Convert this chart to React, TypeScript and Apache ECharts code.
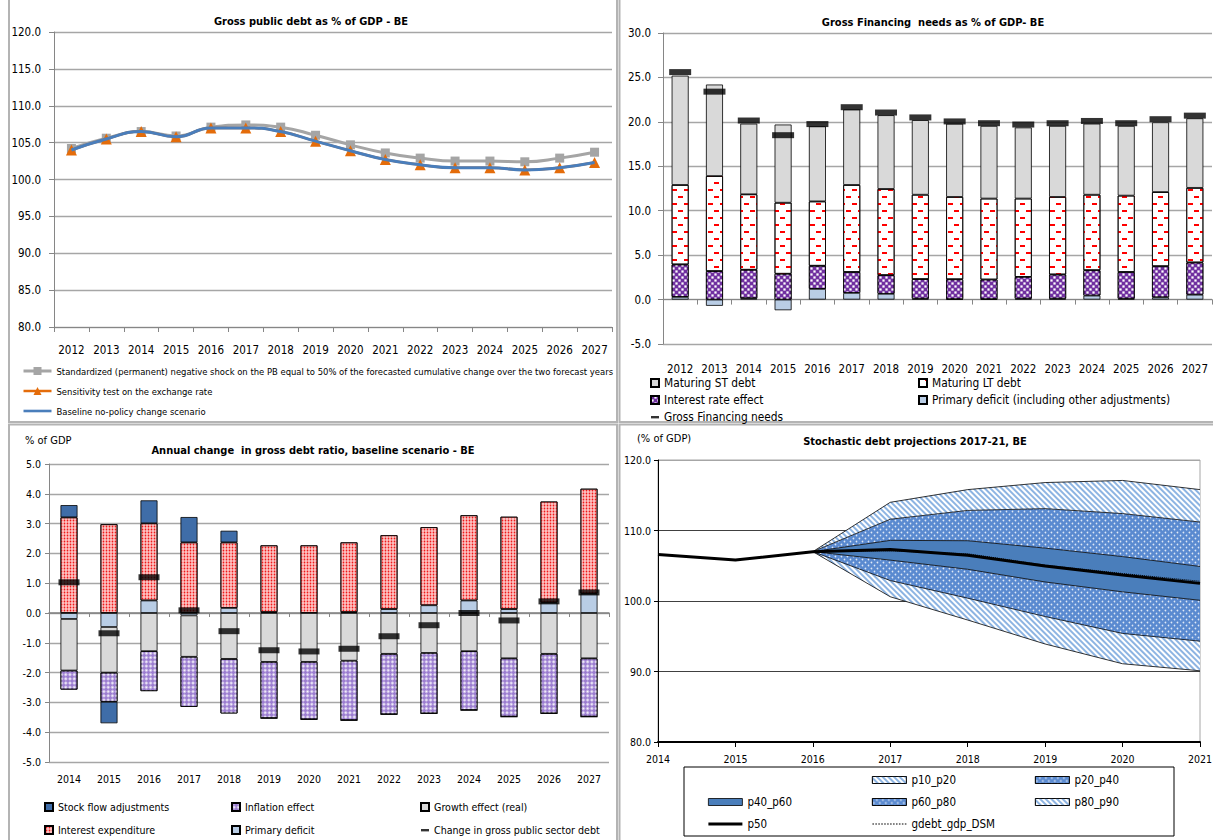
import { useEffect, useRef } from 'react';
import * as echarts from 'echarts';

const FONT = "'DejaVu Sans Condensed', 'Liberation Sans', sans-serif";

// ---------- Top-left: Gross public debt ----------
const yearsDebt = ['2012', '2013', '2014', '2015', '2016', '2017', '2018', '2019', '2020', '2021', '2022', '2023', '2024', '2025', '2026', '2027'];
const shockPB = [104.2, 105.6, 106.5, 105.9, 107.1, 107.4, 107.1, 106.0, 104.7, 103.6, 102.9, 102.5, 102.5, 102.4, 102.9, 103.7];
const exchangeRate = [104.0, 105.5, 106.5, 105.8, 107.0, 107.0, 106.5, 105.2, 103.9, 102.7, 102.0, 101.6, 101.6, 101.3, 101.6, 102.3];
const baseline = [104.0, 105.5, 106.5, 105.8, 107.0, 107.0, 106.5, 105.2, 103.9, 102.7, 102.0, 101.6, 101.6, 101.3, 101.6, 102.3];

// ---------- Top-right: Gross financing needs ----------
const yearsGfn = yearsDebt;
const gfnPrimary = [0.3, -0.7, 0.15, -1.2, 1.2, 0.75, 0.65, 0.1, 0.05, 0.05, 0.1, 0.1, 0.45, 0.1, 0.25, 0.55];
const gfnInterest = [3.65, 3.2, 3.2, 2.9, 2.6, 2.35, 2.1, 2.2, 2.23, 2.2, 2.45, 2.72, 2.85, 3.0, 3.5, 3.62];
const gfnLT = [8.95, 10.7, 8.5, 8.0, 7.25, 9.8, 9.7, 9.5, 9.27, 9.12, 8.82, 8.73, 8.5, 8.6, 8.35, 8.4];
const gfnST = [12.3, 10.3, 7.95, 8.8, 8.45, 8.5, 8.3, 8.4, 8.25, 8.18, 8.0, 8.0, 8.0, 7.85, 7.85, 7.83];
const gfnTotal = [25.6, 23.4, 20.15, 18.5, 19.75, 21.65, 21.05, 20.5, 20.05, 19.85, 19.7, 19.85, 20.1, 19.85, 20.3, 20.7];

// ---------- Bottom-left: Annual change in gross debt ratio ----------
const yearsChg = ['2014', '2015', '2016', '2017', '2018', '2019', '2020', '2021', '2022', '2023', '2024', '2025', '2026', '2027'];
const chgPrimary = [-0.2, -0.47, 0.42, -0.08, 0.17, 0.03, 0.0, 0.03, 0.13, 0.26, 0.42, 0.13, 0.35, 0.65];
const chgInterest = [3.21, 2.98, 2.59, 2.37, 2.2, 2.24, 2.27, 2.34, 2.48, 2.62, 2.86, 3.1, 3.39, 3.52];
const chgGrowth = [-1.73, -1.53, -1.28, -1.39, -1.54, -1.64, -1.64, -1.6, -1.37, -1.34, -1.28, -1.52, -1.37, -1.52];
const chgInflation = [-0.64, -0.98, -1.34, -1.68, -1.83, -1.89, -1.93, -2.0, -2.03, -2.03, -1.98, -1.96, -2.0, -1.96];
const chgSFA = [0.41, -0.72, 0.77, 0.85, 0.39, 0, 0, 0, 0, 0, 0, 0, 0, 0];
const chgDebt = [1.03, -0.68, 1.2, 0.09, -0.61, -1.25, -1.29, -1.2, -0.78, -0.41, 0.0, -0.25, 0.39, 0.69];

// ---------- Bottom-right: Stochastic debt projections ----------
const yearsFan = ['2014', '2015', '2016', '2017', '2018', '2019', '2020', '2021'];
const p10 = [null, null, 107.0, 100.6, 97.3, 93.9, 91.1, 90.1];
const p20 = [null, null, 107.0, 102.9, 100.4, 97.8, 95.4, 94.3];
const p40 = [null, null, 107.0, 105.8, 104.5, 102.7, 101.3, 100.1];
const p50 = [106.6, 105.8, 107.0, 107.3, 106.5, 104.95, 103.7, 102.5];
const p60 = [null, null, 107.0, 108.6, 108.55, 107.5, 106.3, 104.9];
const p80 = [null, null, 107.0, 111.6, 112.85, 113.1, 112.4, 111.2];
const p90 = [null, null, 107.0, 114.0, 115.8, 116.8, 117.1, 115.8];
const dsm = [106.6, 105.8, 107.0, 107.1, 106.7, 105.1, 103.9, 102.8];

const txt = (size: number) => ({ fontFamily: FONT, fontSize: size, color: '#000' });
const fmt1 = (v: number) => v.toFixed(1);
const axisGray = '#868686';
const gridGray = '#A6A6A6';
const dashIcon = 'path://M0,0M0,3h8v2.4h-8zM8,8';
const lineIcon = (w: number, h: number) => `path://M0,0h${w}v${h}h-${w}z`;
const dottedIcon = (() => {
  let d = 'path://';
  for (let i = 0; i < 12; i++) d += `M${i * 3},0h1.6v1h-1.6z`;
  return d;
})();

const decLT = { symbol: 'rect', symbolSize: 1, color: '#FF0000', dashArrayX: [[5, 7], [0, 6, 5, 1]], dashArrayY: [2, 5] };
const decChecker = { symbol: 'rect', symbolSize: 0.75, color: '#FFFFFF', dashArrayX: [[3, 3], [0, 3, 3, 0]], dashArrayY: [3, 0] };
const decLattice = { symbol: 'rect', symbolSize: 0.75, color: '#FFFFFF', dashArrayX: [[3, 3], [0, 3, 3, 0]], dashArrayY: [3, 0], rotation: Math.PI / 4 };
const decRedDots = { symbol: 'rect', symbolSize: 0.6, color: '#F01818', dashArrayX: [3, 0], dashArrayY: [3, 0] };
const decHatch = { symbol: 'rect', symbolSize: 1, color: '#8DB4E2', dashArrayX: [1, 0], dashArrayY: [2, 2], rotation: Math.PI / 4 };
const decDots = { symbol: 'circle', symbolSize: 0.55, color: 'rgba(255,255,255,0.8)', dashArrayX: [[3, 3], [0, 3, 3, 0]], dashArrayY: [3, 0] };

const nz = (a: (number | null)[]) => a.map((v) => (v == null ? '-' : v));
const diff = (hi: (number | null)[], lo: (number | null)[]) =>
  hi.map((v, i) => (v == null || lo[i] == null ? '-' : +((v as number) - (lo[i] as number)).toFixed(3)));

function buildOption(): any {
  const barBorder = { borderColor: '#000', borderWidth: 0.8 };
  const fanAxes = { xAxisIndex: 5, yAxisIndex: 3 };
  const band = (name: string, hi: (number | null)[], lo: (number | null)[], color: string, decal: any) => ({
    type: 'line', name, stack: 'fan', data: diff(hi, lo), symbol: 'none', ...fanAxes, z: 2,
    lineStyle: { width: 0, color, decal }, itemStyle: { color, decal },
    areaStyle: { color, opacity: 1 },
  });
  const boundary = (name: string, d: (number | null)[]) => ({
    type: 'line', name, data: nz(d), symbol: 'none', ...fanAxes, z: 3, silent: true,
    lineStyle: { color: '#000', width: 0.8 },
  });
  const legendBase = (left: number, top: number, data: any[], size: number, lh: number, gap: number, iw: number, ih: number) => ({
    orient: 'vertical', left, top, padding: 0, itemGap: gap, itemWidth: iw, itemHeight: ih, selectedMode: false,
    textStyle: { fontFamily: FONT, fontSize: size, color: '#000', lineHeight: lh }, data,
  });
  const bandItem = (name: string) => ({ name, icon: 'rect', itemStyle: { borderColor: '#000', borderWidth: 0.8 } });
  const title = (x: number, y: number, text: string) => ({
    type: 'text', x, y, style: { text, fontFamily: FONT, fontSize: 11, fontWeight: 'bold', fill: '#000', align: 'center', verticalAlign: 'middle' },
  });

  return {
    animation: false,
    backgroundColor: '#FFFFFF',
    grid: [
      { left: 54, top: 32, width: 558, height: 295, outerBoundsMode: 'none', containLabel: false },
      { left: 663, top: 33, width: 549, height: 311, outerBoundsMode: 'none', containLabel: false },
      { left: 49, top: 464, width: 560, height: 298, outerBoundsMode: 'none', containLabel: false },
      { left: 658, top: 460, width: 542, height: 282, outerBoundsMode: 'none', containLabel: false, show: true, borderColor: gridGray, borderWidth: 1, backgroundColor: 'transparent' },
    ],
    xAxis: [
      { gridIndex: 0, type: 'category', data: yearsDebt, axisLine: { show: true, lineStyle: { color: axisGray } }, axisTick: { show: true, length: 5, interval: 0, lineStyle: { color: axisGray } }, axisLabel: { ...txt(11.5), interval: 0, margin: 17 }, splitLine: { show: false } },
      { gridIndex: 1, type: 'category', data: yearsGfn, position: 'bottom', axisLine: { show: false, onZero: false }, axisTick: { show: false }, axisLabel: { ...txt(11.5), interval: 0, margin: 19 }, splitLine: { show: false } },
      { gridIndex: 1, type: 'category', data: yearsGfn, position: 'bottom', axisLine: { show: true, onZero: true, lineStyle: { color: axisGray } }, axisTick: { show: true, length: 5, interval: 0, lineStyle: { color: axisGray } }, axisLabel: { show: false }, splitLine: { show: false } },
      { gridIndex: 2, type: 'category', data: yearsChg, position: 'bottom', axisLine: { show: false, onZero: false }, axisTick: { show: false }, axisLabel: { ...txt(10.5), interval: 0, margin: 11 }, splitLine: { show: false } },
      { gridIndex: 2, type: 'category', data: yearsChg, position: 'bottom', axisLine: { show: true, onZero: true, lineStyle: { color: '#808080', width: 1.5 } }, axisTick: { show: true, length: 4, interval: 0, lineStyle: { color: axisGray } }, axisLabel: { show: false }, splitLine: { show: false } },
      { gridIndex: 3, type: 'category', data: yearsFan, boundaryGap: false, axisLine: { show: true, lineStyle: { color: '#000', width: 2 } }, axisTick: { show: true, length: 5, interval: 0, lineStyle: { color: '#000' } }, axisLabel: { ...txt(10.5), interval: 0, margin: 11 }, splitLine: { show: false } },
    ],
    yAxis: [
      { gridIndex: 0, type: 'value', min: 80, max: 120, interval: 5, axisLine: { show: true, lineStyle: { color: axisGray } }, axisTick: { show: true, length: 5, lineStyle: { color: axisGray } }, axisLabel: { ...txt(11.5), formatter: fmt1, margin: 13 }, splitLine: { show: true, lineStyle: { color: gridGray, width: 1.3 } } },
      { gridIndex: 1, type: 'value', min: -5, max: 30, interval: 5, axisLine: { show: true, lineStyle: { color: axisGray } }, axisTick: { show: true, length: 5, lineStyle: { color: axisGray } }, axisLabel: { ...txt(11.5), formatter: fmt1, margin: 12 }, splitLine: { show: true, lineStyle: { color: gridGray, width: 1.3 } } },
      { gridIndex: 2, type: 'value', min: -5, max: 5, interval: 1, axisLine: { show: true, lineStyle: { color: axisGray } }, axisTick: { show: true, length: 4, lineStyle: { color: axisGray } }, axisLabel: { ...txt(10.5), formatter: fmt1, margin: 8 }, splitLine: { show: true, lineStyle: { color: gridGray, width: 1.3 } } },
      { gridIndex: 3, type: 'value', min: 80, max: 120, interval: 10, axisLine: { show: true, lineStyle: { color: '#000' } }, axisTick: { show: true, length: 4, lineStyle: { color: '#000' } }, axisLabel: { ...txt(10.5), formatter: fmt1, margin: 7 }, splitLine: { show: true, lineStyle: { color: ['#000', '#404040', '#404040', '#404040', gridGray], width: 1 } } },
    ],
    legend: [
      { ...legendBase(22, 365, [
        'Standardized (permanent) negative shock on the PB equal to 50% of the forecasted cumulative change over the two forecast years',
        'Sensitivity test on the exchange rate',
        { name: 'Baseline no-policy change scenario', icon: lineIcon(28, 2.6) }], 9.4, 12, 8, 28, 10), lineStyle: { width: 'inherit' } },
      legendBase(650, 376, [
        { name: 'Maturing ST debt', icon: 'rect' },
        { name: 'Interest rate effect', icon: 'rect' },
        { name: 'Gross Financing needs', icon: dashIcon }], 11.8, 14, 3, 8, 8),
      legendBase(918, 376, [
        { name: 'Maturing LT debt', icon: 'rect' },
        { name: 'Primary deficit (including other adjustments)', icon: 'rect' }], 11.8, 14, 3, 8, 8),
      legendBase(44, 800, [
        { name: 'Stock flow adjustments', icon: 'rect' },
        { name: 'Interest expenditure', icon: 'rect' }], 10.6, 14, 9, 8, 8),
      legendBase(231, 800, [
        { name: 'Inflation effect', icon: 'rect' },
        { name: 'Primary deficit', icon: 'rect' }], 10.6, 14, 9, 8, 8),
      legendBase(420, 800, [
        { name: 'Growth effect (real)', icon: 'rect' },
        { name: 'Change in gross public sector debt', icon: dashIcon }], 10.6, 14, 9, 8, 8),
      legendBase(708, 795, [bandItem('p40_p60'), { name: 'p50', icon: lineIcon(34, 3) }], 11.5, 14, 8, 34, 7),
      legendBase(872, 773, [bandItem('p10_p20'), bandItem('p60_p80'), { name: 'gdebt_gdp_DSM', icon: dottedIcon }], 11.5, 14, 8, 34, 7),
      legendBase(1035, 773, [bandItem('p20_p40'), bandItem('p80_p90')], 11.5, 14, 8, 34, 7),
    ],
    series: [
      // Top-left
      { type: 'line', name: 'Standardized (permanent) negative shock on the PB equal to 50% of the forecasted cumulative change over the two forecast years', data: shockPB, xAxisIndex: 0, yAxisIndex: 0, smooth: true, symbol: 'rect', symbolSize: 9, itemStyle: { color: '#A5A5A5' }, lineStyle: { color: '#A5A5A5', width: 3 }, z: 2 },
      { type: 'line', name: 'Sensitivity test on the exchange rate', data: exchangeRate, xAxisIndex: 0, yAxisIndex: 0, smooth: true, symbol: 'triangle', symbolSize: 11, itemStyle: { color: '#E46C0A' }, lineStyle: { color: '#E46C0A', width: 2.5 }, z: 3 },
      { type: 'line', name: 'Baseline no-policy change scenario', data: baseline, xAxisIndex: 0, yAxisIndex: 0, smooth: true, symbol: 'none', itemStyle: { color: '#4A7EBB' }, lineStyle: { color: '#4A7EBB', width: 3 }, z: 4 },

      // Top-right
      { type: 'bar', name: 'Primary deficit (including other adjustments)', stack: 'gfn', data: gfnPrimary, xAxisIndex: 1, yAxisIndex: 1, barWidth: 17, itemStyle: { color: '#B9CDE5', ...barBorder } },
      { type: 'bar', name: 'Interest rate effect', stack: 'gfn', data: gfnInterest, xAxisIndex: 1, yAxisIndex: 1, barWidth: 17, itemStyle: { color: '#7030A0', decal: decChecker, ...barBorder } },
      { type: 'bar', name: 'Maturing LT debt', stack: 'gfn', data: gfnLT, xAxisIndex: 1, yAxisIndex: 1, barWidth: 17, itemStyle: { color: '#FFFFFF', decal: decLT, ...barBorder } },
      { type: 'bar', name: 'Maturing ST debt', stack: 'gfn', data: gfnST, xAxisIndex: 1, yAxisIndex: 1, barWidth: 17, itemStyle: { color: '#D9D9D9', ...barBorder } },
      { type: 'scatter', name: 'Gross Financing needs', data: gfnTotal, xAxisIndex: 1, yAxisIndex: 1, symbol: 'rect', symbolSize: [22, 6], itemStyle: { color: '#000' }, z: 5 },

      // Bottom-left
      { type: 'bar', name: 'Primary deficit', stack: 'chg', data: chgPrimary, xAxisIndex: 3, yAxisIndex: 2, barWidth: 17, itemStyle: { color: '#B9CDE5', ...barBorder } },
      { type: 'bar', name: 'Interest expenditure', stack: 'chg', data: chgInterest, xAxisIndex: 3, yAxisIndex: 2, barWidth: 17, itemStyle: { color: '#FFE4E4', decal: decRedDots, ...barBorder } },
      { type: 'bar', name: 'Growth effect (real)', stack: 'chg', data: chgGrowth, xAxisIndex: 3, yAxisIndex: 2, barWidth: 17, itemStyle: { color: '#D9D9D9', ...barBorder } },
      { type: 'bar', name: 'Inflation effect', stack: 'chg', data: chgInflation, xAxisIndex: 3, yAxisIndex: 2, barWidth: 17, itemStyle: { color: '#9B7DD0', decal: decLattice, ...barBorder } },
      { type: 'bar', name: 'Stock flow adjustments', stack: 'chg', data: chgSFA, xAxisIndex: 3, yAxisIndex: 2, barWidth: 17, itemStyle: { color: '#3F6DA8', ...barBorder } },
      { type: 'scatter', name: 'Change in gross public sector debt', data: chgDebt, xAxisIndex: 3, yAxisIndex: 2, symbol: 'rect', symbolSize: [21, 6], itemStyle: { color: '#000' }, z: 5 },

      // Bottom-right fan chart
      { type: 'line', name: '_base', stack: 'fan', data: nz(p10), symbol: 'none', ...fanAxes, silent: true, lineStyle: { width: 0 } },
      band('p10_p20', p20, p10, '#FFFFFF', decHatch),
      band('p20_p40', p40, p20, '#5A8AD0', decDots),
      band('p40_p60', p60, p40, '#4A7EBB', undefined),
      band('p60_p80', p80, p60, '#5A8AD0', decDots),
      band('p80_p90', p90, p80, '#FFFFFF', decHatch),
      boundary('_b10', p10), boundary('_b20', p20), boundary('_b40', p40),
      boundary('_b60', p60), boundary('_b80', p80), boundary('_b90', p90),
      { type: 'line', name: 'p50', data: p50, symbol: 'none', ...fanAxes, z: 5, itemStyle: { color: '#000' }, lineStyle: { color: '#000', width: 3 } },
      { type: 'line', name: 'gdebt_gdp_DSM', data: dsm, symbol: 'none', ...fanAxes, z: 6, itemStyle: { color: '#000' }, lineStyle: { color: '#000', width: 1, type: 'dotted' } },
    ],
    graphic: [
      { type: 'rect', shape: { x: 9, y: -5, width: 608, height: 427 }, style: { fill: 'none', stroke: '#B4B4B4', lineWidth: 2 }, silent: true },
      { type: 'rect', shape: { x: 619.5, y: -5, width: 600, height: 427 }, style: { fill: 'none', stroke: '#B4B4B4', lineWidth: 2 }, silent: true },
      { type: 'rect', shape: { x: 9, y: 424.5, width: 608, height: 420 }, style: { fill: 'none', stroke: '#B4B4B4', lineWidth: 2 }, silent: true },
      { type: 'rect', shape: { x: 619.5, y: 424.5, width: 600, height: 420 }, style: { fill: 'none', stroke: '#B4B4B4', lineWidth: 2 }, silent: true },
      { type: 'rect', shape: { x: 684, y: 767, width: 490, height: 69 }, style: { fill: 'none', stroke: '#000', lineWidth: 1 }, silent: true },
      title(311, 21, 'Gross public debt as % of GDP - BE'),
      title(933, 22, 'Gross Financing  needs as % of GDP- BE'),
      title(313, 450, 'Annual change  in gross debt ratio, baseline scenario - BE'),
      title(915, 441, 'Stochastic debt projections 2017-21, BE'),
      { type: 'text', x: 25, y: 440, style: { text: '% of GDP', fontFamily: FONT, fontSize: 11, fill: '#000', align: 'left', verticalAlign: 'middle' } },
      { type: 'text', x: 637, y: 438, style: { text: '(% of GDP)', fontFamily: FONT, fontSize: 11, fill: '#000', align: 'left', verticalAlign: 'middle' } },
    ],
  };
}

export default function App() {
  const ref = useRef<HTMLDivElement>(null);
  useEffect(() => {
    document.body.style.margin = '0';
    const chart = echarts.init(ref.current as HTMLDivElement, undefined, { renderer: 'svg' });
    chart.setOption(buildOption());
    return () => chart.dispose();
  }, []);
  return <div ref={ref} style={{ width: 1213, height: 840 }} />;
}
